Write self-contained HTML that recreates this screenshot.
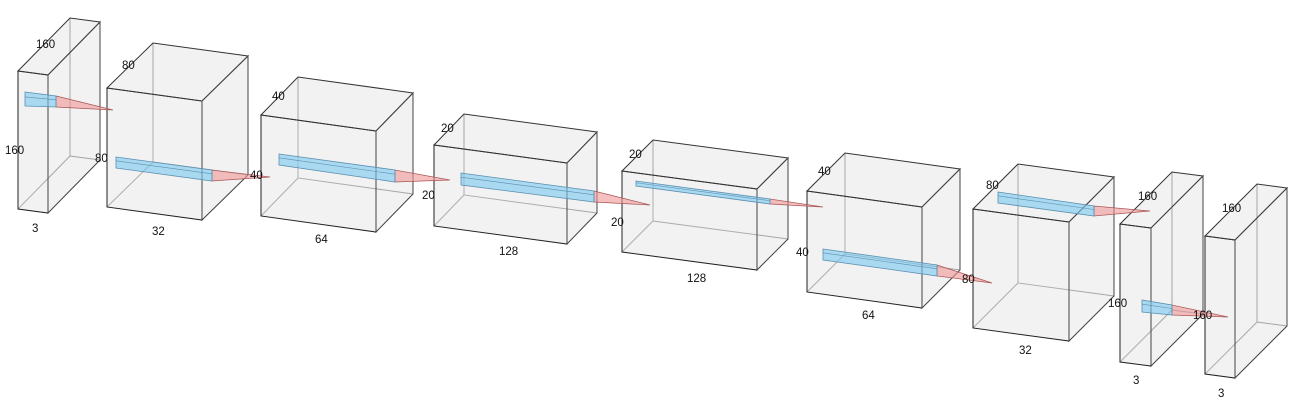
<!DOCTYPE html>
<html><head><meta charset="utf-8"><style>
html,body{margin:0;padding:0;background:#fff;}
svg{display:block;font-family:"Liberation Sans",sans-serif;}
</style></head><body>
<svg id="c" width="1307" height="417" viewBox="0 0 1307 417" xmlns="http://www.w3.org/2000/svg"></svg>
<script>
// layer boxes: front TL x,y ; front TR x,y ; front height ; depth offset dx,dy
const boxFront = [[18,71,48,75],[107,88,202,101],[261,115,376,131],[434,145,567,163],[622,171,757,189],[807,191,922,207],[973,209,1069,222],[1120,224,1151,228],[1205,236,1235,240]];
const boxHeight = [138,119,101,81,81,101,119,138,138];
const boxDepth = [[52,-53],[46,-45],[37,-38],[30,-31],[31,-31],[38,-38],[45,-45],[52,-52],[52,-52]];
const depthLabels = ["160","80","40","20","20","40","80","160","160"];
const heightLabels = ["160","80","40","20","20","40","80","160","160"];
const widthLabels = ["3","32","64","128","128","64","32","3","3"];
const depthPos=[[36,48],[122,69],[272,100],[441,132],[629,158],[818,175],[986,189],[1138,200],[1222,212]];
const heightPos=[[5,154],[95,162],[250,179],[422,199],[611,226],[796,256],[962,283],[1108,307],[1193,319]];
const widthPos=[[32,232],[152,235],[315,243],[499,255],[687,282],[862,319],[1019,354],[1133,384],[1218,397]];
// conv rods: start top, start bottom, end x, end top, end bottom, tip
const rods=[[25,92,106,56,96,107,113,110],[116,157,168,212,170,181,270,177],[279,154,165,395,170,182,450,180],[461,173,185,594,191,202,650,205],[636,181,186,770,199,204,823,207],[823,249,260,937,265,276,992,283],[998,192,203,1094,206,216,1150,211],[1142,300,312,1172,305,315,1228,317]];
const S="http://www.w3.org/2000/svg",svg=document.getElementById('c');
function mk(t,a,p){const e=document.createElementNS(S,t);for(const k in a)e.setAttribute(k,a[k]);(p||svg).appendChild(e);return e;}
const P=a=>a.map(p=>p.join(',')).join(' ');
boxFront.forEach((f,i)=>{
  const g=mk('g',{});
  
  
  const h=boxHeight[i],[dx,dy]=boxDepth[i];
  const A=[f[0],f[1]],B=[f[2],f[3]],C=[f[2],f[3]+h],D=[f[0],f[1]+h];
  const o=p=>[p[0]+dx,p[1]+dy];
  const A2=o(A),B2=o(B),C2=o(C),D2=o(D);
  mk('polygon',{points:P([A2,B2,C2,D2]),fill:'#f3f3f3',stroke:'none'},g);
  mk('polygon',{points:P([A,A2,D2,D]),fill:'#f3f3f3',stroke:'none'},g);
  mk('polygon',{points:P([D,D2,C2,C]),fill:'#f3f3f3',stroke:'none'},g);
  mk('polyline',{points:P([A2,D2,C2]),fill:'none',stroke:'#999','stroke-width':1},g);
  mk('line',{x1:D[0],y1:D[1],x2:D2[0],y2:D2[1],stroke:'#999','stroke-width':1},g);
  mk('polygon',{points:P([A,B,C,D]),fill:'rgba(240,240,240,0.25)',stroke:'#222','stroke-width':1},g);
  mk('polygon',{points:P([A,A2,B2,B]),fill:'rgba(240,240,240,0.15)',stroke:'#333','stroke-width':1},g);
  mk('polygon',{points:P([B,B2,C2,C]),fill:'rgba(240,240,240,0.15)',stroke:'#444','stroke-width':1},g);
});
rods.forEach((r,i)=>{
  const g=mk('g',{});
  
  
  mk('polygon',{points:P([[r[3],r[4]],[r[3],r[5]],[r[6],r[7]]]),fill:'rgba(240,150,150,0.6)',stroke:'#a55','stroke-width':0.7},g);
  mk('polygon',{points:P([[r[0],r[1]],[r[3],r[4]],[r[3],r[5]],[r[0],r[2]]]),fill:'rgba(120,200,240,0.6)',stroke:'#5a8fb0','stroke-width':0.8},g);
  const m=(r[1]+r[2])/2-(r[2]-r[1])*0.15,m2=(r[4]+r[5])/2-(r[5]-r[4])*0.15;
  mk('line',{x1:r[0],y1:m,x2:r[3],y2:m2,stroke:'#5a8fb0','stroke-width':0.6},g);
});
function lab(txt,p,n){const t=mk('text',{x:p[0],y:p[1],'font-size':11.5,fill:'#111'});t.textContent=txt;
  
  }
depthLabels.forEach((t,i)=>lab(t,depthPos[i],'depth-label-'+(i+1)));
heightLabels.forEach((t,i)=>lab(t,heightPos[i],'height-label-'+(i+1)));
widthLabels.forEach((t,i)=>lab(t,widthPos[i],'width-label-'+(i+1)));
</script>
</body></html>
